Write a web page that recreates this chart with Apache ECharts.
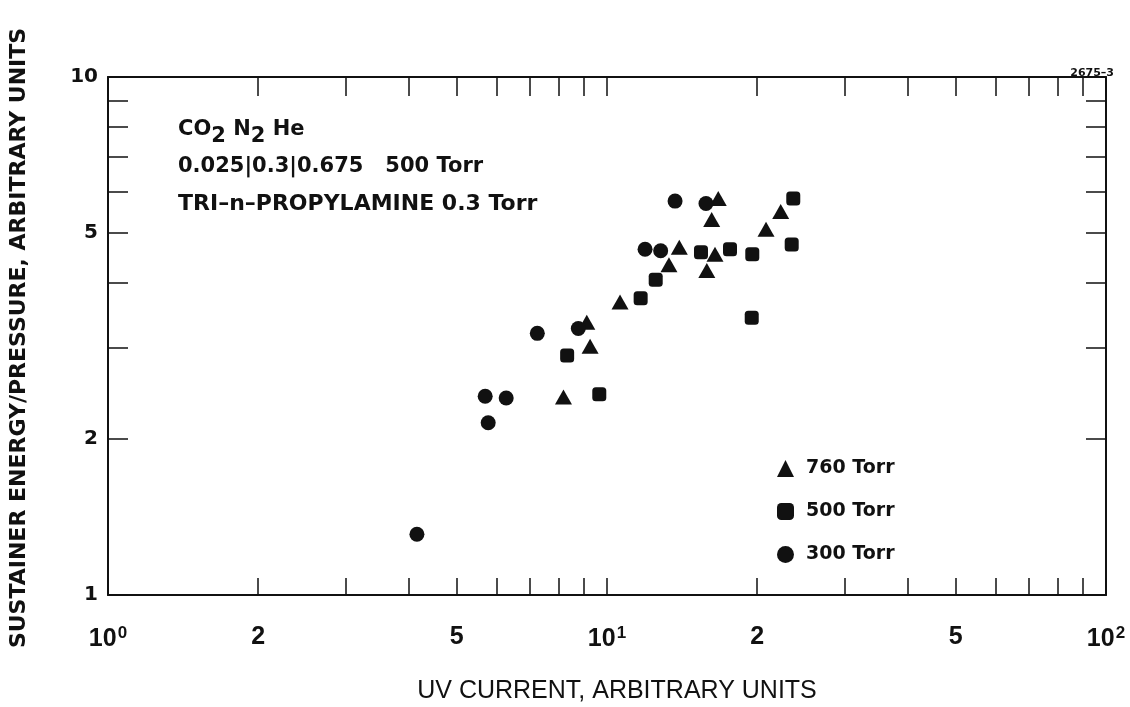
<!DOCTYPE html>
<html>
<head>
<meta charset="utf-8">
<script src="https://cdn.jsdelivr.net/npm/echarts@6/dist/echarts.min.js"></script>
<style>
  html, body { margin: 0; padding: 0; background: #fff; }
  #chart { width: 1130px; height: 707px; }
</style>
</head>
<body>
<div id="chart"></div>
<script>
// data: [uv current, sustainer energy/pressure]
const torr760 = [
  [9.11, 3.36], [9.25, 3.02], [8.18, 2.41], [10.62, 3.68], [13.31, 4.34],
  [13.96, 4.69], [16.71, 5.83], [16.21, 5.31], [16.46, 4.55], [15.85, 4.23],
  [20.83, 5.08], [22.29, 5.50]
];
const torr500 = [
  [8.32, 2.90], [9.65, 2.44], [11.68, 3.74], [12.52, 4.06], [15.43, 4.59],
  [17.64, 4.65], [19.55, 4.55], [19.50, 3.43], [23.62, 5.83], [23.45, 4.75]
];
const torr300 = [
  [4.16, 1.31], [5.70, 2.42], [6.28, 2.40], [5.78, 2.15], [7.25, 3.20],
  [8.76, 3.27], [11.92, 4.65], [12.81, 4.62], [13.69, 5.76], [15.79, 5.70]
];

// tick positions and labels
const xTicks = [1, 2, 3, 4, 5, 6, 7, 8, 9, 10, 20, 30, 40, 50, 60, 70, 80, 90, 100];
const xLabels = [1, 2, 5, 10, 20, 50, 100];
const yTicks = [1, 2, 3, 4, 5, 6, 7, 8, 9, 10];
const yLabels = [1, 2, 5, 10];

const ink = '#111';
const font = 'Liberation Sans, Arial, sans-serif';
const wide = 'DejaVu Sans, sans-serif';

const chart = echarts.init(document.getElementById('chart'));

function xFormat(v) {
  const n = Math.round(v);
  if (n === 1) return '{b|10}{sup|0}';
  if (n === 10) return '{b|10}{sup|1}';
  if (n === 100) return '{b|10}{sup|2}';
  return '{b|' + String(n).charAt(0) + '}';
}

const lineStyle = { color: ink, width: 2 };

chart.setOption({
  backgroundColor: '#fff',
  animation: false,
  grid: { left: 108, right: 24, top: 77, bottom: 112, outerBoundsMode: 'none', containLabel: false },
  legend: {
    orient: 'vertical',
    left: 772,
    top: 454,
    itemGap: 24,
    itemWidth: 17,
    itemHeight: 17,
    textStyle: { fontFamily: wide, fontSize: 19, fontWeight: 'bold', color: ink, padding: [0, 0, 0, 7] },
    data: [
      { name: '760 Torr', icon: 'triangle' },
      { name: '500 Torr', icon: 'roundRect' },
      { name: '300 Torr', icon: 'circle' }
    ]
  },
  xAxis: [
    {
      type: 'log', logBase: 10, min: 1, max: 100, position: 'bottom',
      name: 'UV CURRENT, ARBITRARY UNITS', nameLocation: 'middle', nameGap: 84,
      nameTextStyle: { fontFamily: font, fontSize: 25, color: ink, padding: [0, 0, 0, 20] },
      axisLine: { lineStyle },
      axisTick: { inside: true, length: 17, customValues: xTicks, lineStyle: { color: ink, width: 1.5 } },
      axisLabel: {
        customValues: xLabels, margin: 30, formatter: xFormat, color: ink,
        rich: {
          b: { fontSize: 25, fontWeight: 'bold', fontFamily: font, color: ink },
          sup: { fontSize: 17, fontWeight: 'bold', verticalAlign: 'top', padding: [0, 0, 12, 1], color: ink, fontFamily: font }
        }
      },
      splitLine: { show: false }, minorTick: { show: false }
    },
    {
      type: 'log', logBase: 10, min: 1, max: 100, position: 'top',
      axisLine: { lineStyle },
      axisTick: { inside: true, length: 19, customValues: xTicks, lineStyle: { color: ink, width: 1.5 } },
      axisLabel: { show: false },
      splitLine: { show: false }
    }
  ],
  yAxis: [
    {
      type: 'log', logBase: 10, min: 1, max: 10, position: 'left',
      axisLine: { lineStyle },
      axisTick: { inside: true, length: 20, customValues: yTicks, lineStyle: { color: ink, width: 1.5 } },
      axisLabel: {
        customValues: yLabels, margin: 10,
        formatter: v => String(Math.round(v)),
        fontFamily: wide, fontSize: 20, fontWeight: 'bold', color: ink
      },
      splitLine: { show: false }
    },
    {
      type: 'log', logBase: 10, min: 1, max: 10, position: 'right',
      axisLine: { lineStyle },
      axisTick: { inside: true, length: 20, customValues: yTicks, lineStyle: { color: ink, width: 1.5 } },
      axisLabel: { show: false },
      splitLine: { show: false }
    }
  ],
  graphic: [
    {
      type: 'text', x: 19, y: 338, rotation: Math.PI / 2,
      style: {
        text: 'SUSTAINER ENERGY/PRESSURE, ARBITRARY UNITS',
        font: 'bold 22px ' + wide, fill: ink, align: 'center', verticalAlign: 'middle'
      }
    },
    {
      type: 'text', x: 178, y: 112,
      style: {
        text: 'CO{sub|2} N{sub|2} He',
        font: 'bold 21px ' + wide, fill: ink,
        rich: { sub: { fontSize: 21, fontWeight: 'bold', fontFamily: wide, padding: [14, 0, 0, 0], fill: ink } }
      }
    },
    {
      type: 'text', x: 178, y: 156,
      style: { text: '0.025|0.3|0.675   500 Torr', font: 'bold 21px ' + wide, fill: ink }
    },
    {
      type: 'text', x: 178, y: 193,
      style: { text: 'TRI\u2013n\u2013PROPYLAMINE 0.3 Torr', font: 'bold 22px ' + wide, fill: ink }
    },
    {
      type: 'text', right: 16, top: 68,
      style: { text: '2675\u20133', font: 'bold 11px ' + wide, fill: ink }
    }
  ],
  series: [
    {
      name: '760 Torr', type: 'scatter', symbol: 'triangle', symbolSize: [17, 15],
      itemStyle: { color: ink, opacity: 1 }, data: torr760
    },
    {
      name: '500 Torr', type: 'scatter', symbol: 'roundRect', symbolSize: 14,
      itemStyle: { color: ink, opacity: 1 }, data: torr500
    },
    {
      name: '300 Torr', type: 'scatter', symbol: 'circle', symbolSize: 15,
      itemStyle: { color: ink, opacity: 1 }, data: torr300
    }
  ]
});
</script>
</body>
</html>
